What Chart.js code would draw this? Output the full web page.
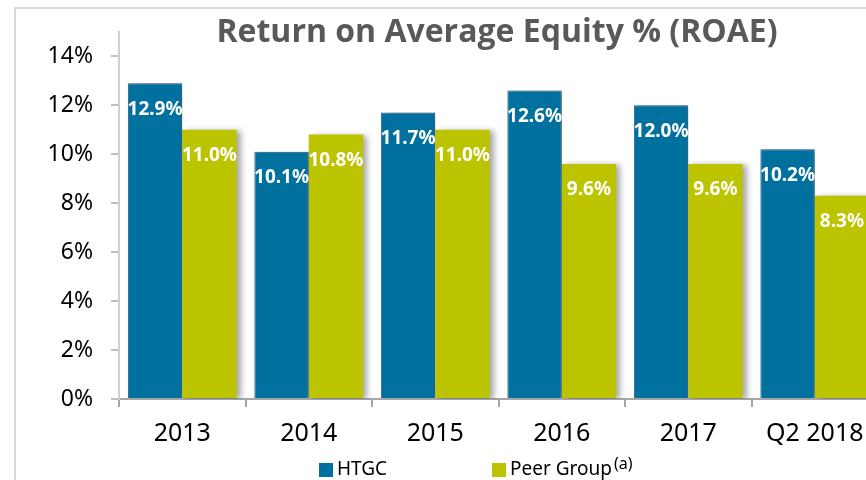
<!DOCTYPE html>
<html>
<head>
<meta charset="utf-8">
<script src="https://cdn.jsdelivr.net/npm/chart.js@4.4.0/dist/chart.umd.min.js"></script>
<style>
  html, body { margin: 0; padding: 0; background: #fff; overflow: hidden; width: 866px; height: 480px; }
  #frame { position: absolute; left: 14px; top: 7px; width: 900px; height: 500px;
           border-left: 2px solid #d9d9d9; border-top: 2px solid #d9d9d9; }
  #roae { position: absolute; left: 0; top: 0; }
</style>
</head>
<body>
<div id="frame"></div>
<canvas id="roae" width="880" height="480"></canvas>
<script>
// ROAE - HTGC vs peer group
var years = ['2013', '2014', '2015', '2016', '2017', 'Q2 2018'];
var htgc = [12.9, 10.1, 11.7, 12.6, 12.0, 10.2];
var peerGroup = [11.0, 10.8, 11.0, 9.6, 9.6, 8.3];
var yTicks = [0, 2, 4, 6, 8, 10, 12, 14];

var blue = '#00709e';
var green = '#bcc400';

// shadow behind the bars
var barShadow = {
    id: 'barShadow',
    beforeDatasetDraw: function(chart) {
        var ctx = chart.ctx;
        ctx.save();
        ctx.shadowColor = 'rgba(0,0,0,0.35)';
        ctx.shadowBlur = 6;
        ctx.shadowOffsetX = 4;
        ctx.shadowOffsetY = 1;
    },
    afterDatasetDraw: function(chart) {
        chart.ctx.restore();
    }
};

// labels inside bars, title and legend
var extras = {
    id: 'extras',
    afterDraw: function(chart) {
        var ctx = chart.ctx;
        ctx.save();
        ctx.fillStyle = '#fff';
        ctx.font = 'bold 19px "Noto Sans"';
        ctx.textAlign = 'center';
        ctx.textBaseline = 'middle';
        chart.data.datasets.forEach(function(ds, i) {
            chart.getDatasetMeta(i).data.forEach(function(bar, j) {
                ctx.fillText(ds.data[j].toFixed(1) + '%', bar.x, bar.y + 26);
            });
        });

        ctx.fillStyle = '#595959';
        ctx.font = 'bold 32px "Open Sans"';
        ctx.fillText('Return on Average Equity % (ROAE)', 497, 33);

        // legend
        var items = [[319, 0], [492, 1]];
        ctx.textAlign = 'left';
        ctx.font = '19px "Noto Sans"';
        items.forEach(function(it) {
            var ds = chart.data.datasets[it[1]];
            ctx.fillStyle = ds.backgroundColor;
            ctx.fillRect(it[0], 463, 14, 14);
            ctx.fillStyle = '#000';
            ctx.fillText(ds.label, it[0] + 18, 470);
            if (it[1] === 1) {
                var w = ctx.measureText(ds.label).width;
                ctx.font = '16px "Noto Sans"';
                ctx.fillText('(a)', it[0] + 18 + w + 2, 464);
            }
        });
        ctx.restore();
    }
};

var ctx = document.getElementById('roae');
var barGraph = new Chart(ctx, {
    type: 'bar',
    data: {
        labels: years,
        datasets: [
            { label: 'HTGC', data: htgc, backgroundColor: blue, borderColor: '#2b5f8c', borderWidth: 1 },
            { label: 'Peer Group', data: peerGroup, backgroundColor: green, borderWidth: 0 }
        ]
    },
    options: {
        responsive: false,
        animation: false,
        events: [],
        categoryPercentage: 0.86,
        barPercentage: 1,
        layout: { padding: { left: 0, right: 2, top: 29, bottom: 19 } },
        plugins: { legend: { display: false }, tooltip: { enabled: false } },
        scales: {
            x: {
                grid: { drawOnChartArea: false, offset: true, tickLength: 8, color: '#a6a6a6', lineWidth: 2 },
                border: { color: '#a6a6a6', width: 2 },
                ticks: { color: '#000', font: { family: 'Noto Sans', size: 25 }, padding: 12, maxRotation: 0 }
            },
            y: {
                min: 0,
                max: 15,
                afterBuildTicks: function(scale) {
                    scale.ticks = yTicks.map(function(v) { return { value: v }; });
                },
                afterFit: function(scale) { scale.width = 119; },
                grid: { drawOnChartArea: false, tickLength: 8, color: '#bfbfbf', lineWidth: 2 },
                border: { color: '#d0d0d0', width: 2 },
                ticks: {
                    color: '#000',
                    font: { family: 'Noto Sans', size: 23 },
                    padding: 18,
                    callback: function(v) { return v + '%'; }
                }
            }
        }
    },
    plugins: [barShadow, extras]
});
</script>
</body>
</html>
